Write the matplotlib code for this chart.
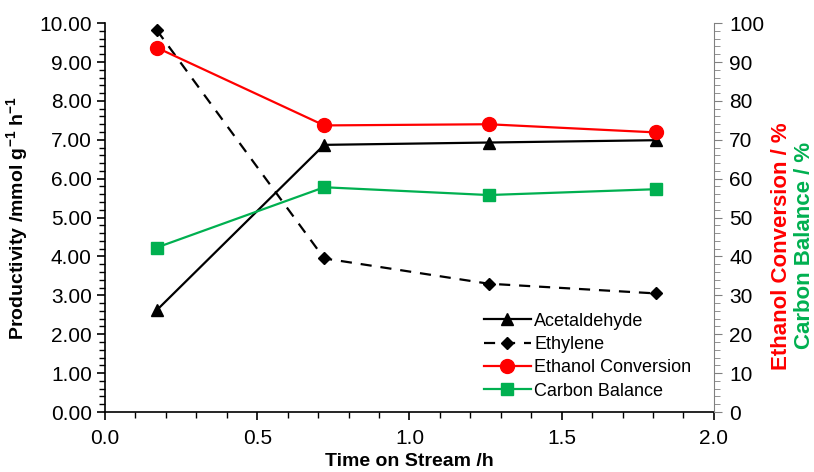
import matplotlib
matplotlib.use('Agg')
import matplotlib.pyplot as plt
from matplotlib.ticker import MultipleLocator, FormatStrFormatter

plt.rcParams['font.family'] = ['Liberation Sans', 'DejaVu Sans']

time_h = [0.17, 0.72, 1.26, 1.81]
acetaldehyde = [2.62, 6.87, 6.93, 6.99]
ethylene = [9.82, 3.95, 3.30, 3.05]
ethanol_conv = [93.7, 73.7, 74.0, 71.9]
carbon_balance = [42.3, 57.8, 55.8, 57.3]

red = '#ff0000'
green = '#00b050'

fig = plt.figure(figsize=(8.14, 4.72), dpi=100)
ax = fig.add_axes([0.129, 0.127, 0.748, 0.824])
ax2 = ax.twinx()

l1, = ax.plot(time_h, acetaldehyde, '-', color='black', lw=1.6, marker='^', ms=8, label='Acetaldehyde')
l2, = ax.plot(time_h, ethylene, '--', color='black', lw=1.6, marker='D', ms=6, label='Ethylene', dashes=(5, 4))
l3, = ax2.plot(time_h, ethanol_conv, '-', color=red, lw=1.6, marker='o', ms=10, label='Ethanol Conversion')
l4, = ax2.plot(time_h, carbon_balance, '-', color=green, lw=1.6, marker='s', ms=9, label='Carbon Balance')

ax.set_xlim(0, 2.0)
ax.set_ylim(0, 10)
ax2.set_ylim(0, 100)

ax.xaxis.set_major_locator(MultipleLocator(0.5))
ax.xaxis.set_minor_locator(MultipleLocator(0.1))
ax.xaxis.set_major_formatter(FormatStrFormatter('%.1f'))
ax.yaxis.set_major_locator(MultipleLocator(1))
ax.yaxis.set_minor_locator(MultipleLocator(0.2))
ax.yaxis.set_major_formatter(FormatStrFormatter('%.2f'))
ax2.yaxis.set_major_locator(MultipleLocator(10))
ax2.yaxis.set_minor_locator(MultipleLocator(2))

for a in (ax, ax2):
    a.spines['top'].set_visible(False)
ax.spines['right'].set_visible(False)
ax2.spines['left'].set_visible(False)
ax2.spines['bottom'].set_visible(False)
ax2.spines['right'].set_color('#808080')
ax.spines['left'].set_linewidth(1.2)
ax.spines['bottom'].set_linewidth(1.2)

ax.tick_params(axis='x', which='major', direction='out', length=6, width=1.2, labelsize=15, pad=6)
ax.tick_params(axis='x', which='minor', direction='out', length=4, width=1.0)
ax.tick_params(axis='y', which='major', direction='out', length=6, width=1.2, labelsize=15)
ax.tick_params(axis='y', which='minor', direction='out', length=4, width=1.0)
ax2.tick_params(axis='y', which='major', direction='out', length=6, color='#808080', labelsize=15, pad=5)
ax2.tick_params(axis='y', which='minor', direction='out', length=4, color='#808080')

ax.set_xlabel('Time on Stream /h', fontsize=14, fontweight='bold', labelpad=4)
ax.set_ylabel('Productivity /mmol g$^{\\mathregular{-1}}$ h$^{\\mathregular{-1}}$', fontsize=14,
              fontweight='bold', labelpad=6)

fig.text(0.960, 0.479, 'Ethanol Conversion / %', rotation=90, color=red, fontsize=16,
         fontweight='bold', ha='center', va='center')
fig.text(0.988, 0.479, 'Carbon Balance / %', rotation=90, color=green, fontsize=16,
         fontweight='bold', ha='center', va='center')

ax.legend(handles=[l1, l2, l3, l4], loc='lower right', bbox_to_anchor=(0.99, -0.01),
          frameon=False, fontsize=13, handlelength=2.6, labelspacing=0.35, handletextpad=0.2)

fig.savefig('out.png', dpi=100)
